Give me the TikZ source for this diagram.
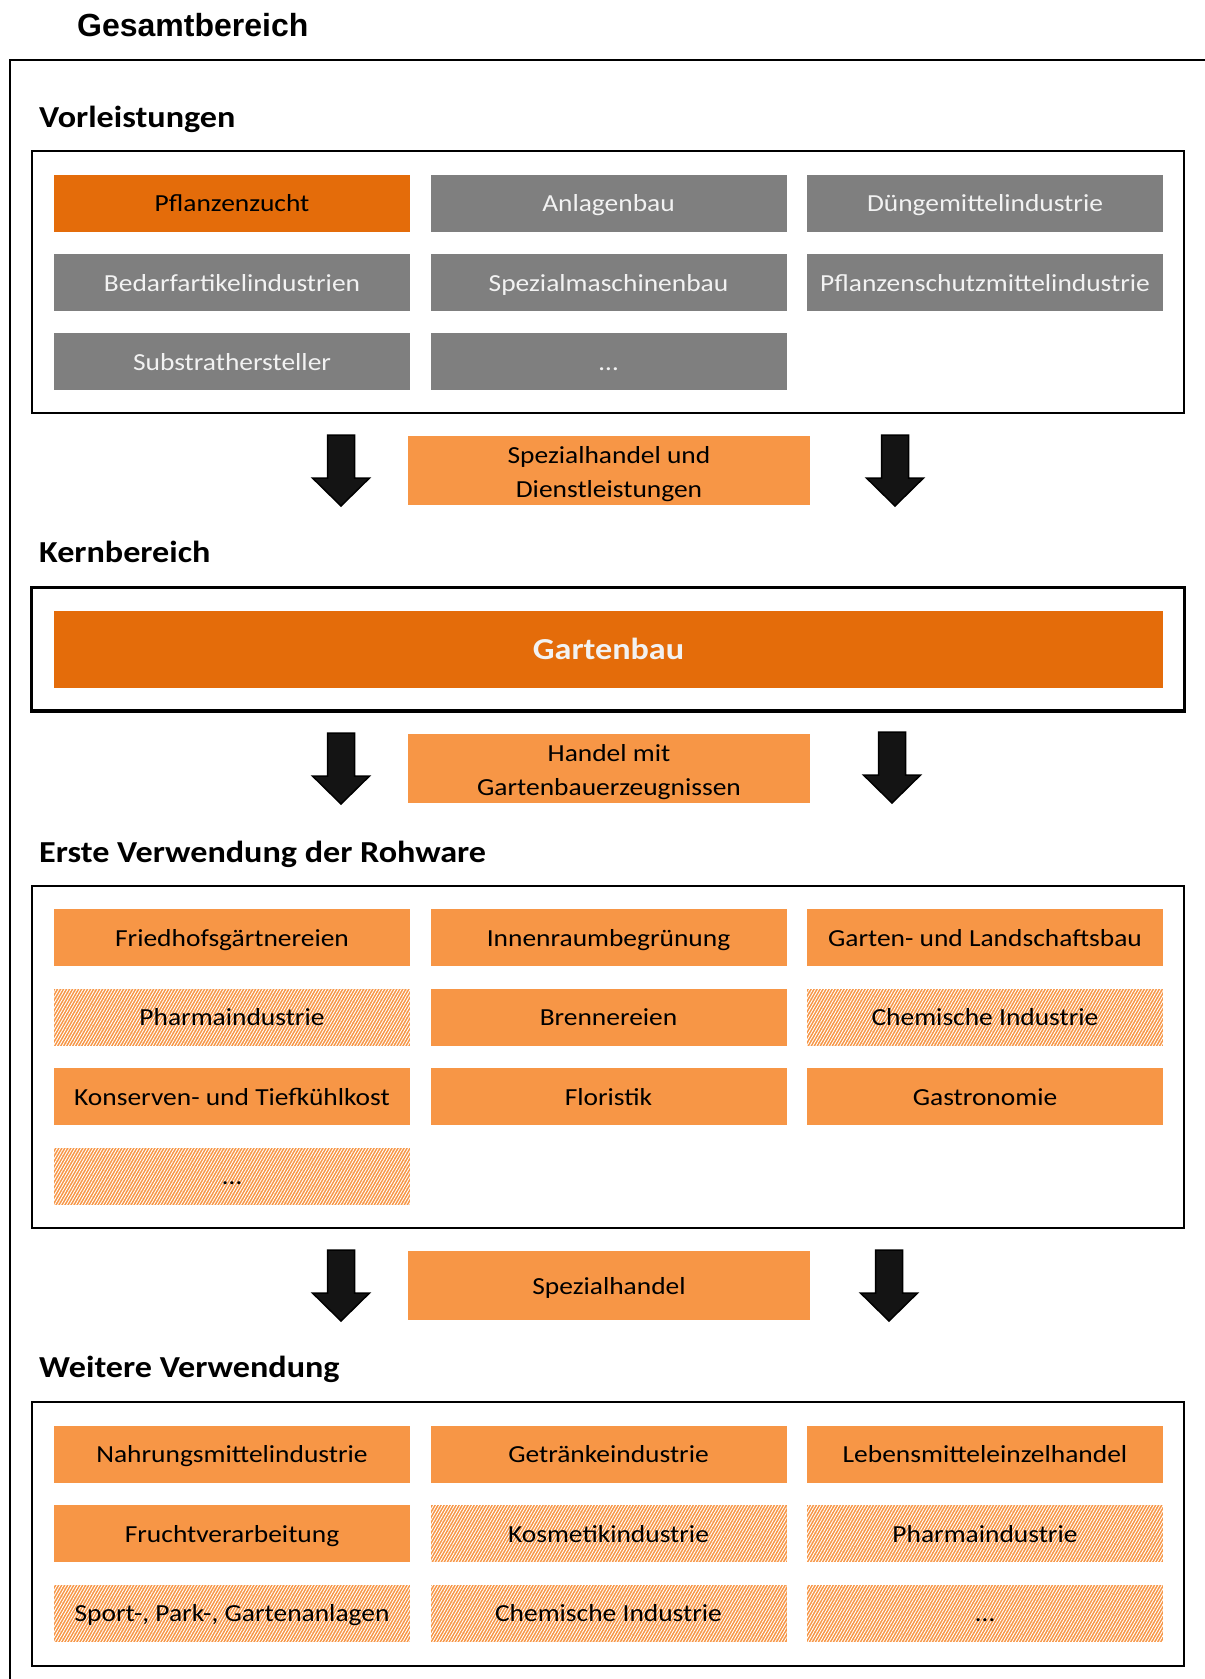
\documentclass[tikz,border=0pt]{standalone}
\usepackage{fontspec}
\setmainfont{Carlito}[FakeStretch=1.12]
\newfontfamily\arialfont{Liberation Sans}
\usetikzlibrary{patterns.meta}
\definecolor{darkorange}{HTML}{E46C0A}
\definecolor{lightorange}{HTML}{F79646}
\definecolor{cellgrey}{HTML}{7F7F7F}
\definecolor{paletext}{HTML}{F2F2F2}
\tikzset{
	cell/.style={minimum width=356pt, minimum height=57pt, inner sep=0pt, text height=21pt, text depth=4pt, font=\fontsize{24.5}{34}\selectfont},
	greybox/.style={cell, fill=cellgrey, text=paletext},
	orangebox/.style={cell, fill=lightorange, text=black},
	darkbox/.style={cell, fill=darkorange, text=black},
	hatchbox/.style={cell, preaction={fill=lightorange}, pattern={Lines[angle=60,distance=2.6pt,line width=0.9pt]}, pattern color=white, text=black},
	tradebox/.style={orangebox, minimum width=402pt, minimum height=69pt},
	twolines/.style={align=center, text height=56pt, text depth=2pt},
	heading/.style={anchor=base west, inner sep=0pt, font=\fontsize{30.5}{36}\selectfont\bfseries},
	section/.style={line width=2pt},
	blockarr/.style={draw=black, fill=black!92, line width=1.5pt}
}
\def\blockarrow(#1,#2){\draw[blockarr] (#1-13.5,#2) -- (#1+13.5,#2) -- (#1+13.5,#2+43) -- (#1+28.5,#2+43) -- (#1,#2+71) -- (#1-28.5,#2+43) -- (#1-13.5,#2+43) -- cycle;}

\begin{document}
\begin{tikzpicture}[x=1pt, y=-1pt]
			%%%%% START %%%%%
			\useasboundingbox (0,0) rectangle (1205,1679);
			
			\node[anchor=base west, inner sep=0pt, font=\arialfont\fontsize{32}{38}\selectfont\bfseries] (gesamt) at (77,36) {Gesamtbereich};
			\draw[line width=2pt] (1205,60) -- (10,60) -- (10,1679);
			
			% Vorleistungen
			\node[heading] (vorleist) at (39,127) {Vorleistungen};
			\draw[section] (32,151) rectangle (1184,413);
			\node[darkbox] (pflanzenzucht) at (232,203) {Pflanzenzucht};
			\node[greybox] (anlagenbau) at (608.5,203) {Anlagenbau};
			\node[greybox] (duenger) at (985,203) {Düngemittelindustrie};
			\node[greybox] (bedarf) at (232,282.5) {Bedarfartikelindustrien};
			\node[greybox] (maschinen) at (608.5,282.5) {Spezialmaschinenbau};
			\node[greybox] (schutz) at (985,282.5) {Pflanzenschutzmittelindustrie};
			\node[greybox] (substrat) at (232,361.5) {Substrathersteller};
			\node[greybox] (vorrest) at (608.5,361.5) {…};
			
			\blockarrow(341,435)
			\node[tradebox, twolines] (dienst) at (609,470.5) {Spezialhandel und\\Dienstleistungen};
			\blockarrow(895,435)
			
			% Kernbereich
			\node[heading] (kern) at (39,562) {Kernbereich};
			\draw[line width=3.5pt] (31.5,587.5) rectangle (1184.5,711);
			\node[cell, fill=darkorange, text=paletext, minimum width=1109pt, minimum height=77pt, text height=22pt, text depth=2pt, font=\fontsize{30.5}{36}\selectfont\bfseries] (gartenbau) at (608.5,649.5) {Gartenbau};
			
			\blockarrow(341,733)
			\node[tradebox, twolines] (handel) at (609,768.5) {Handel mit\\Gartenbauerzeugnissen};
			\blockarrow(892,732)
			
			% Erste Verwendung
			\node[heading] (erste) at (39,862) {Erste Verwendung der Rohware};
			\draw[section] (32,886) rectangle (1184,1227.5);
			\node[orangebox] (friedhof) at (232,937.5) {Friedhofsgärtnereien};
			\node[orangebox] (innenraum) at (608.5,937.5) {Innenraumbegrünung};
			\node[orangebox] (galabau) at (985,937.5) {Garten- und Landschaftsbau};
			\node[hatchbox] (pharma) at (232,1017) {Pharmaindustrie};
			\node[orangebox] (brennerei) at (608.5,1017) {Brennereien};
			\node[hatchbox] (chemie) at (985,1017) {Chemische Industrie};
			\node[orangebox] (konserven) at (232,1096.5) {Konserven- und Tiefkühlkost};
			\node[orangebox] (floristik) at (608.5,1096.5) {Floristik};
			\node[orangebox] (gastro) at (985,1096.5) {Gastronomie};
			\node[hatchbox] (ersterest) at (232,1176) {…};
			
			\blockarrow(341,1250)
			\node[tradebox] (spezial) at (609,1285.5) {Spezialhandel};
			\blockarrow(889,1250)
			
			% Weitere Verwendung
			\node[heading] (weitere) at (39,1377) {Weitere Verwendung};
			\draw[section] (32,1402) rectangle (1184,1665.5);
			\node[orangebox] (nahrung) at (232,1454) {Nahrungsmittelindustrie};
			\node[orangebox] (getraenke) at (608.5,1454) {Getränkeindustrie};
			\node[orangebox] (leh) at (985,1454) {Lebensmitteleinzelhandel};
			\node[orangebox] (frucht) at (232,1533.5) {Fruchtverarbeitung};
			\node[hatchbox] (kosmetik) at (608.5,1533.5) {Kosmetikindustrie};
			\node[hatchbox] (pharmazwei) at (985,1533.5) {Pharmaindustrie};
			\node[hatchbox] (sport) at (232,1613) {Sport-, Park-, Gartenanlagen};
			\node[hatchbox] (chemiezwei) at (608.5,1613) {Chemische Industrie};
			\node[hatchbox] (weiterest) at (985,1613) {…};
			
			%%%%% END %%%%%
\end{tikzpicture}
\end{document}
